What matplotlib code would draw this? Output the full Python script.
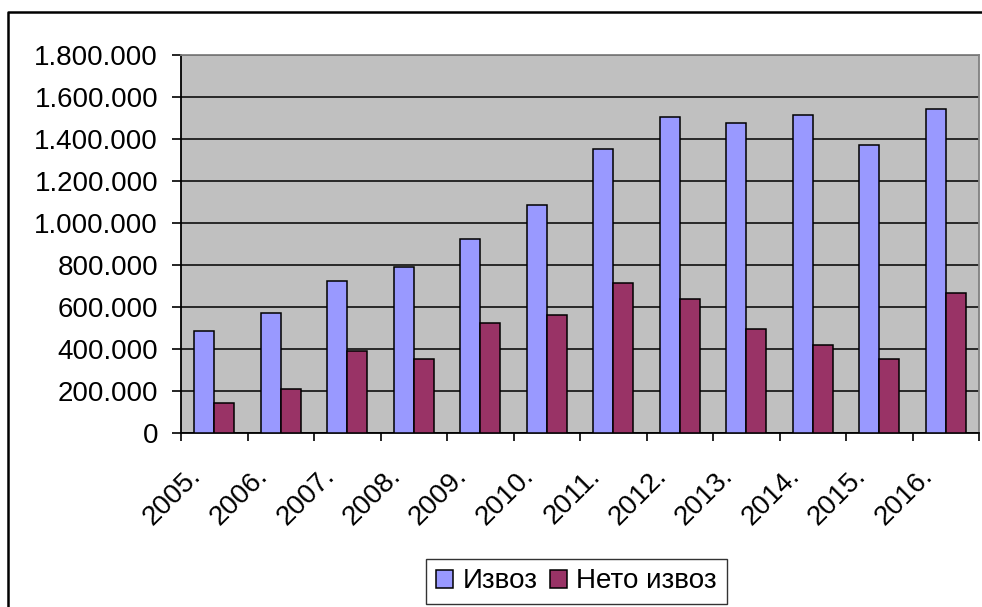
import numpy as np
import matplotlib
matplotlib.use('Agg')
import matplotlib.pyplot as plt
from matplotlib.ticker import FuncFormatter, FixedLocator
from matplotlib.transforms import ScaledTranslation
from matplotlib.lines import Line2D

years = ['2005.', '2006.', '2007.', '2008.', '2009.', '2010.',
         '2011.', '2012.', '2013.', '2014.', '2015.', '2016.']
export_total = [484000, 571000, 722000, 789000, 924000, 1084000,
                1352000, 1505000, 1476000, 1514000, 1371000, 1544000]
export_net = [143000, 210000, 389000, 352000, 524000, 563000,
              713000, 638000, 495000, 419000, 352000, 667000]
series_names = ['Извоз', 'Нето извоз']
y_ticks = np.arange(0, 1800001, 200000)

plt.rcParams['font.family'] = ['Liberation Sans', 'DejaVu Sans']
fs = 20

fig = plt.figure(figsize=(9.82, 6.07), dpi=100)
ax = fig.add_axes([181 / 982, 1 - 433 / 607, (979 - 181) / 982, (433 - 55) / 607])
ax.set_facecolor('#C0C0C0')

x = np.arange(len(years))
w = 0.3
b1 = ax.bar(x - w / 2, export_total, w, color='#9999FF', edgecolor='black',
            linewidth=1.1, label=series_names[0], zorder=3)
b2 = ax.bar(x + w / 2, export_net, w, color='#993366', edgecolor='black',
            linewidth=1.1, label=series_names[1], zorder=3)

ax.set_xlim(-0.5, len(years) - 0.5)
ax.set_ylim(0, 1800000)
ax.set_yticks(y_ticks)
ax.yaxis.set_major_formatter(FuncFormatter(lambda v, p: f'{int(v):,}'.replace(',', '.')))
ax.grid(axis='y', color='black', linewidth=1.1, zorder=1)
ax.set_axisbelow(True)

# category labels at centres, tick marks at category boundaries
ax.set_xticks(x)
ax.set_xticklabels(years, rotation=45, ha='right', va='center', rotation_mode='anchor')
ax.xaxis.set_minor_locator(FixedLocator(np.arange(-0.5, len(years), 1)))
ax.tick_params(axis='x', which='major', length=0, pad=0, labelsize=fs)
ax.tick_params(axis='x', which='minor', length=6, width=1.2, direction='out', color='black')
ax.tick_params(axis='y', length=6.5, width=1.2, direction='out', pad=10, labelsize=fs)

offset = ScaledTranslation(-17 / 100, -39 / 100, fig.dpi_scale_trans)
for lab in ax.get_xticklabels():
    lab.set_transform(lab.get_transform() + offset)

for s in ['left', 'bottom']:
    ax.spines[s].set_color('black')
    ax.spines[s].set_linewidth(1.3)
for s in ['top', 'right']:
    ax.spines[s].set_color('#808080')
    ax.spines[s].set_linewidth(1.3)

leg = fig.legend(handles=[b1, b2], loc='center', bbox_to_anchor=(576.5 / 982, 25.5 / 607),
                 ncol=2, fontsize=fs, frameon=True, fancybox=False, edgecolor='black',
                 handlelength=0.6, handleheight=0.6, handletextpad=0.35,
                 columnspacing=0.45, borderpad=0.35, borderaxespad=0)
leg.get_frame().set_linewidth(1.0)

# outer chart border (only left and top visible in the crop)
fig.add_artist(Line2D([8 / 982, 8 / 982, 1.0], [0.0, 1 - 12 / 607, 1 - 12 / 607],
                      color='black', linewidth=1.8, transform=fig.transFigure))

fig.savefig('out.png', dpi=100)
